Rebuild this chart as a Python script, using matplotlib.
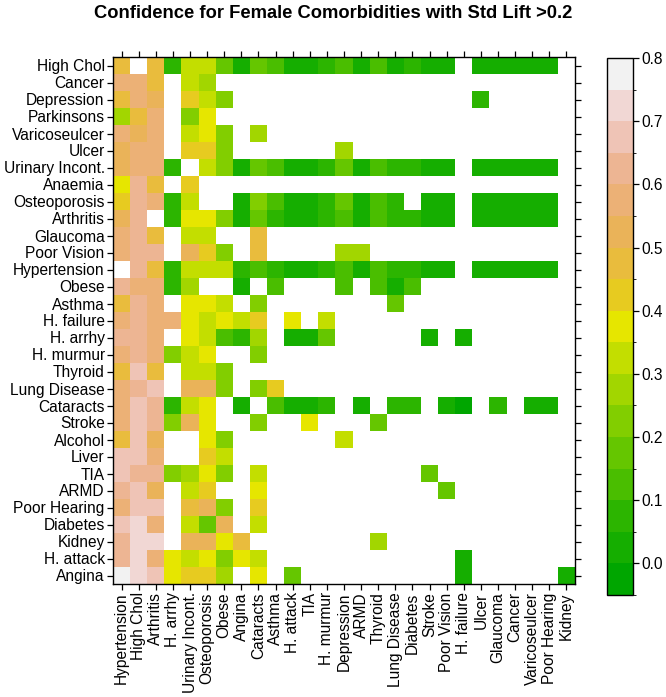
import numpy as np
import matplotlib
matplotlib.use("Agg")
import matplotlib.pyplot as plt
from matplotlib.colors import ListedColormap, BoundaryNorm, hsv_to_rgb

plt.rcParams['font.family'] = ['Liberation Sans', 'DejaVu Sans']

N = np.nan

row_labels = ["High Chol", "Cancer", "Depression", "Parkinsons", "Varicoseulcer", "Ulcer",
              "Urinary Incont.", "Anaemia", "Osteoporosis", "Arthritis", "Glaucoma",
              "Poor Vision", "Hypertension", "Obese", "Asthma", "H. failure", "H. arrhy",
              "H. murmur", "Thyroid", "Lung Disease", "Cataracts", "Stroke", "Alcohol",
              "Liver", "TIA", "ARMD", "Poor Hearing", "Diabetes", "Kidney", "H. attack",
              "Angina"]

col_labels = ["Hypertension", "High Chol", "Arthritis", "H. arrhy", "Urinary Incont.",
              "Osteoporosis", "Obese", "Angina", "Cataracts", "Asthma", "H. attack", "TIA",
              "H. murmur", "Depression", "ARMD", "Thyroid", "Lung Disease", "Diabetes",
              "Stroke", "Poor Vision", "H. failure", "Ulcer", "Glaucoma", "Cancer",
              "Varicoseulcer", "Poor Hearing", "Kidney"]

# confidence values, one list per row (columns in col_labels order)
high_chol = [0.47, N, 0.47, 0.07, 0.32, 0.32, 0.18, 0.03, 0.17, 0.12, 0.03, 0.03, 0.07, 0.12,
             0.03, 0.12, 0.03, 0.07, 0.03, 0.03, N, 0.03, 0.03, 0.03, 0.03, 0.03, N]
cancer = [0.57, 0.57, 0.47, N, 0.32, 0.27, N, N, N, N, N, N, N, N,
          N, N, N, N, N, N, N, N, N, N, N, N, N]
depression = [0.47, 0.57, 0.54, N, 0.42, 0.32, 0.22, N, N, N, N, N, N, N,
              N, N, N, N, N, N, N, 0.07, N, N, N, N, N]
parkinsons = [0.27, 0.47, 0.57, N, 0.22, 0.37, N, N, N, N, N, N, N, N,
              N, N, N, N, N, N, N, N, N, N, N, N, N]
varicoseulcer = [0.58, 0.52, 0.56, N, 0.32, 0.37, 0.22, N, 0.28, N, N, N, N, N,
                 N, N, N, N, N, N, N, N, N, N, N, N, N]
ulcer = [0.53, 0.56, 0.56, N, 0.42, 0.42, 0.22, N, N, N, N, N, N, 0.27,
         N, N, N, N, N, N, N, N, N, N, N, N, N]
urinary_incont = [0.53, 0.56, 0.56, 0.07, N, 0.32, 0.22, 0.03, 0.17, 0.12, 0.03, 0.03, 0.07, 0.17,
                  0.03, 0.12, 0.07, 0.07, 0.03, 0.03, N, 0.03, 0.03, 0.03, 0.03, 0.03, N]
anaemia = [0.37, 0.62, 0.47, N, 0.42, N, N, N, N, N, N, N, N, N,
           N, N, N, N, N, N, N, N, N, N, N, N, N]
osteoporosis = [0.41, 0.62, 0.56, 0.07, 0.32, N, N, 0.03, 0.22, 0.12, 0.03, 0.03, 0.07, 0.17,
                0.03, 0.12, 0.07, N, 0.03, 0.03, N, 0.03, 0.03, 0.03, 0.03, 0.03, N]
arthritis = [0.51, 0.62, N, 0.07, 0.37, 0.37, 0.22, 0.03, 0.17, 0.08, 0.03, 0.03, 0.07, 0.12,
             0.03, 0.12, 0.07, 0.07, 0.03, 0.03, N, 0.03, 0.03, 0.03, 0.03, 0.03, N]
glaucoma = [0.57, 0.62, 0.47, N, 0.32, 0.32, N, N, 0.47, N, N, N, N, N,
            N, N, N, N, N, N, N, N, N, N, N, N, N]
poor_vision = [0.57, 0.62, 0.62, N, 0.52, 0.42, 0.22, N, 0.47, N, N, N, N, 0.27,
               0.27, N, N, N, N, N, N, N, N, N, N, N, N]
hypertension = [N, 0.62, 0.47, 0.07, 0.32, 0.32, 0.32, 0.07, 0.12, 0.07, 0.03, 0.03, 0.07, 0.12,
                0.03, 0.12, 0.07, 0.07, 0.03, 0.03, N, 0.03, 0.03, 0.03, 0.03, 0.03, N]
obese = [0.62, 0.57, 0.56, 0.05, 0.28, N, N, 0.02, N, 0.10, N, N, N, 0.12,
         N, 0.12, 0.03, 0.12, N, N, N, N, N, N, N, N, N]
asthma = [0.47, 0.62, 0.57, N, 0.37, 0.37, 0.32, N, 0.22, N, N, N, N, N,
          N, N, 0.17, N, N, N, N, N, N, N, N, N, N]
h_failure = [0.57, 0.62, 0.55, 0.57, 0.37, 0.32, 0.37, 0.32, 0.42, N, 0.37, N, 0.32, N,
             N, N, N, N, N, N, N, N, N, N, N, N, N]
h_arrhy = [0.62, 0.62, 0.57, N, 0.37, 0.32, 0.13, 0.08, 0.28, N, 0.04, 0.04, 0.15, N,
           N, N, N, N, 0.03, N, 0.03, N, N, N, N, N, N]
h_murmur = [0.56, 0.62, 0.56, 0.22, 0.32, 0.37, N, N, 0.22, N, N, N, N, N,
            N, N, N, N, N, N, N, N, N, N, N, N, N]
thyroid = [0.47, 0.67, 0.47, N, 0.32, 0.32, 0.22, N, N, N, N, N, N, N,
           N, N, N, N, N, N, N, N, N, N, N, N, N]
lung_disease = [0.55, 0.62, 0.67, N, 0.52, 0.52, 0.22, N, 0.22, 0.42, N, N, N, N,
                N, N, N, N, N, N, N, N, N, N, N, N, N]
cataracts = [0.57, 0.67, 0.62, 0.07, 0.32, 0.37, N, 0.04, N, 0.12, 0.03, 0.03, 0.07, N,
             0.03, N, 0.07, 0.07, N, 0.03, -0.02, N, 0.07, N, 0.03, 0.03, N]
stroke = [0.57, 0.67, 0.62, 0.22, 0.52, 0.37, N, N, 0.22, N, N, 0.37, N, N,
          N, 0.17, N, N, N, N, N, N, N, N, N, N, N]
alcohol = [0.48, 0.67, 0.53, N, N, 0.37, 0.22, N, N, N, N, N, N, 0.32,
           N, N, N, N, N, N, N, N, N, N, N, N, N]
liver = [0.67, 0.67, 0.55, N, N, 0.42, 0.32, N, N, N, N, N, N, N,
         N, N, N, N, N, N, N, N, N, N, N, N, N]
tia = [0.67, 0.62, 0.62, 0.22, 0.27, 0.37, 0.22, N, 0.32, N, N, N, N, N,
       N, N, N, N, 0.17, N, N, N, N, N, N, N, N]
armd = [0.62, 0.67, 0.52, N, 0.32, 0.42, N, N, 0.37, N, N, N, N, N,
        N, N, N, N, N, 0.17, N, N, N, N, N, N, N]
poor_hearing = [0.57, 0.67, 0.66, N, 0.47, 0.52, 0.22, N, 0.42, N, N, N, N, N,
                N, N, N, N, N, N, N, N, N, N, N, N, N]
diabetes = [0.67, 0.72, 0.57, N, 0.32, 0.17, 0.50, N, 0.32, N, N, N, N, N,
            N, N, N, N, N, N, N, N, N, N, N, N, N]
kidney = [0.62, 0.72, 0.72, N, 0.50, 0.50, 0.37, 0.48, N, N, N, N, N, N,
          N, 0.27, N, N, N, N, N, N, N, N, N, N, N]
h_attack = [0.62, 0.72, 0.57, 0.37, 0.32, 0.37, 0.23, 0.37, 0.32, N, N, N, N, N,
            N, N, N, N, N, N, 0.04, N, N, N, N, N, N]
angina = [0.77, 0.72, 0.67, 0.37, 0.42, 0.41, 0.27, N, 0.37, N, 0.17, N, N, N,
          N, N, N, N, N, N, 0.04, N, N, N, N, N, 0.04]

rows = [high_chol, cancer, depression, parkinsons, varicoseulcer, ulcer, urinary_incont,
        anaemia, osteoporosis, arthritis, glaucoma, poor_vision, hypertension, obese,
        asthma, h_failure, h_arrhy, h_murmur, thyroid, lung_disease, cataracts, stroke,
        alcohol, liver, tia, armd, poor_hearing, diabetes, kidney, h_attack, angina]

levels = np.round(np.arange(-0.05, 0.8001, 0.05), 2)
cbar_ticks = [0.0, 0.1, 0.2, 0.3, 0.4, 0.5, 0.6, 0.7, 0.8]


def terrain_colors(n):
    k = n // 2
    h1 = np.linspace(4 / 12, 2 / 12, k)
    s1 = np.ones(k)
    v1 = np.linspace(0.65, 0.9, k)
    h2 = np.linspace(2 / 12, 0, n - k + 1)[1:]
    s2 = np.linspace(1, 0, n - k + 1)[1:]
    v2 = np.linspace(0.9, 0.95, n - k + 1)[1:]
    hsv = np.stack([np.concatenate([h1, h2]), np.concatenate([s1, s2]),
                    np.concatenate([v1, v2])], axis=1)
    return hsv_to_rgb(hsv)


pal = terrain_colors(100)
nb = len(levels) - 1
idx = np.round(np.linspace(1, 100, nb)).astype(int) - 1
cmap = ListedColormap(pal[idx])
cmap.set_bad('white')
norm = BoundaryNorm(levels, cmap.N)

data = np.ma.masked_invalid(np.array(rows, dtype=float))

W, H = 666, 697
fs = 11.2
fig = plt.figure(figsize=(W / 100, H / 100), dpi=100)
px_l, px_r, px_t, px_b = 113, 575, 57, 584
ax = fig.add_axes([px_l / W, 1 - px_b / H, (px_r - px_l) / W, (px_b - px_t) / H])

nrow, ncol = data.shape
mesh = ax.pcolormesh(np.arange(ncol + 1), np.arange(nrow + 1), data, cmap=cmap, norm=norm)
ax.set_xlim(0, ncol)
ax.set_ylim(nrow, 0)
ax.set_xticks(np.arange(ncol) + 0.5)
ax.set_xticklabels(col_labels, rotation=90, fontsize=fs)
ax.set_yticks(np.arange(nrow) + 0.5)
ax.set_yticklabels(row_labels, fontsize=fs)
ax.tick_params(direction='out', length=4.5, width=0.9, top=True, right=True,
               labeltop=False, labelright=False, pad=1.5, colors='black')
for sp in ax.spines.values():
    sp.set_linewidth(1.0)

cb_l, cb_r, cb_t, cb_b = 607, 633, 58, 595
cax = fig.add_axes([cb_l / W, 1 - cb_b / H, (cb_r - cb_l) / W, (cb_b - cb_t) / H])
cb = fig.colorbar(mesh, cax=cax, ticks=cbar_ticks, format='%.1f')
cb.outline.set_linewidth(1.0)
cax.tick_params(direction='out', length=4.5, width=0.9, labelsize=fs, pad=1.5)

fig.text(0.5, 1 - 14 / H, "Confidence for Female Comorbidities with Std Lift >0.2",
         ha='center', va='center', fontsize=13.2, fontweight='bold')

fig.savefig("out.png", dpi=100)
